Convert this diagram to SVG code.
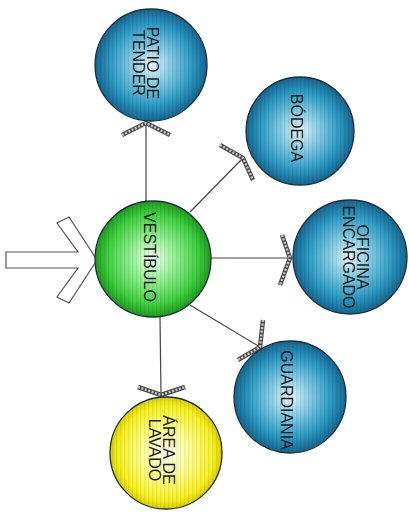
<svg xmlns="http://www.w3.org/2000/svg" width="409" height="512" viewBox="0 0 409 512">
  <defs>
    <radialGradient id="gBlue" cx="0.5" cy="0.5" r="0.5">
      <stop offset="0" stop-color="#eaf7fc"/>
      <stop offset="0.3" stop-color="#92d2e8"/>
      <stop offset="0.72" stop-color="#2e9cc5"/>
      <stop offset="1" stop-color="#156690"/>
    </radialGradient>
    <radialGradient id="gGreen" cx="0.5" cy="0.5" r="0.5">
      <stop offset="0" stop-color="#f2fff2"/>
      <stop offset="0.35" stop-color="#9af29a"/>
      <stop offset="0.78" stop-color="#3fd03f"/>
      <stop offset="1" stop-color="#1f9a1f"/>
    </radialGradient>
    <radialGradient id="gYellow" cx="0.5" cy="0.5" r="0.5">
      <stop offset="0" stop-color="#fffff2"/>
      <stop offset="0.4" stop-color="#ffff9a"/>
      <stop offset="0.85" stop-color="#f7f022"/>
      <stop offset="1" stop-color="#d8cf00"/>
    </radialGradient>
    <pattern id="stripes" width="4" height="4" patternUnits="userSpaceOnUse">
      <rect x="0" y="0" width="1.3" height="4" fill="#000" opacity="0.07"/>
    </pattern>
  </defs>
  <style>
    .node { stroke: #1c2f38; stroke-width: 1.3; }
    .tex { fill: url(#stripes); stroke: none; }
    .lbl { font-family: "Liberation Sans", Arial, sans-serif; font-size: 16px; fill: #1b1b1b; text-anchor: middle; }
    .link { stroke: #444; stroke-width: 1.2; fill: none; }
    .head-o { stroke: #4a4a4a; stroke-width: 4.5; fill: none; stroke-linecap: butt; stroke-linejoin: miter; }
    .head-i { stroke: #c8c8c8; stroke-width: 2.4; fill: none; stroke-dasharray: 2 1.6; }
  </style>

  <!-- entrance arrow -->
  <polygon points="6,252 78,252 57,223 69,217 97,260 69,303 57,297 78,268 6,268" fill="#fff" stroke="#555" stroke-width="1.2"/>

  <!-- connectors -->
  <g id="connectors">
    <line class="link" x1="146" y1="201" x2="146" y2="123"/>
    <line class="link" x1="190" y1="212" x2="243" y2="158"/>
    <line class="link" x1="211" y1="258" x2="290" y2="258"/>
    <line class="link" x1="190" y1="305" x2="260" y2="347"/>
    <line class="link" x1="160" y1="317" x2="161" y2="395"/>

    <polyline class="head-o" points="122,135 146,123 170,135"/>
    <polyline class="head-i" points="122,135 146,123 170,135"/>

    <polyline class="head-o" points="220,145 243,158 253,180"/>
    <polyline class="head-i" points="220,145 243,158 253,180"/>

    <polyline class="head-o" points="282,235 290,258 280,285"/>
    <polyline class="head-i" points="282,235 290,258 280,285"/>

    <polyline class="head-o" points="263,320 260,347 238,360"/>
    <polyline class="head-i" points="263,320 260,347 238,360"/>

    <polyline class="head-o" points="138,387 161,395 185,387"/>
    <polyline class="head-i" points="138,387 161,395 185,387"/>
  </g>

  <g id="patio">
    <circle class="node" cx="151" cy="65" r="56" fill="url(#gBlue)"/>
    <circle class="tex" cx="151" cy="65" r="55"/>
    <text class="lbl" transform="translate(147,63) rotate(90)"><tspan x="0" y="0">PATIO DE</tspan><tspan x="0" y="14">TENDER</tspan></text>
  </g>

  <g id="bodega">
    <circle class="node" cx="300" cy="131" r="54" fill="url(#gBlue)"/>
    <circle class="tex" cx="300" cy="131" r="53"/>
    <text class="lbl" transform="translate(291,128) rotate(90)">BÓDEGA</text>
  </g>

  <g id="oficina">
    <circle class="node" cx="350" cy="257" r="57" fill="url(#gBlue)"/>
    <circle class="tex" cx="350" cy="257" r="56"/>
    <text class="lbl" transform="translate(357,257) rotate(90)"><tspan x="0" y="0">OFICINA</tspan><tspan x="0" y="14">ENCARGADO</tspan></text>
  </g>

  <g id="guardiania">
    <circle class="node" cx="290" cy="397" r="56" fill="url(#gBlue)"/>
    <circle class="tex" cx="290" cy="397" r="55"/>
    <text class="lbl" transform="translate(281,400) rotate(90)">GUARDIANIA</text>
  </g>

  <g id="lavado">
    <circle class="node" cx="166" cy="453" r="56" fill="url(#gYellow)"/>
    <circle class="tex" cx="166" cy="453" r="55"/>
    <text class="lbl" transform="translate(163,450) rotate(90)"><tspan x="0" y="0">ÁREA DE</tspan><tspan x="0" y="14">LAVADO</tspan></text>
  </g>

  <g id="vestibulo">
    <circle class="node" cx="153" cy="259" r="58" fill="url(#gGreen)"/>
    <circle class="tex" cx="153" cy="259" r="57"/>
    <text class="lbl" transform="translate(144,257) rotate(90)">VESTÍBULO</text>
  </g>
</svg>
